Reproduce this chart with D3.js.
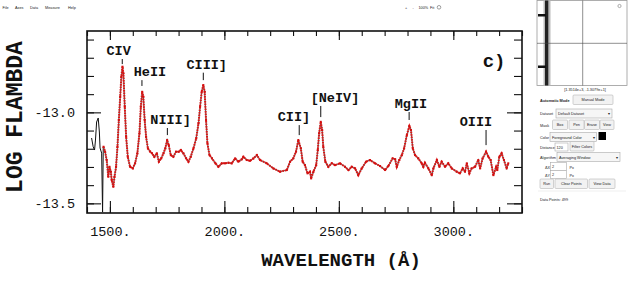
<!DOCTYPE html>
<html lang="en">
<head>
<meta charset="utf-8">
<title>Spectrum digitizer</title>
<script src="https://cdn.jsdelivr.net/npm/d3@7"></script>
<style>
  body { margin: 0; background: white; font-family: "Liberation Sans", Arial, sans-serif; }
  svg { display: block; }
  .ui { font-size: 10px; fill: #222; font-family: "Liberation Sans", Arial, sans-serif; }
  .btn { fill: #f2f2f2; stroke: #b5b5b5; stroke-width: 0.6; }
  .mono { font-family: "Liberation Mono", "DejaVu Sans Mono", monospace; }
</style>
</head>
<body>
<svg id="chart" width="628" height="282"></svg>
<script>
var wavelength = [
  1472,1479,1486,1493,1498,1504,1508,1515,1520,1527,
  1533,1539,1545,1550,1555,1559,1565,1571,1578,1588,
  1600,1610,1620,1629,1635,1641,1646,1652,1658,1666,
  1676,1684,1694,1705,1714,1724,1734,1742,1750,1757,
  1766,1777,1789,1801,1810,1821,1833,1843,1853,1865,
  1877,1887,1894,1901,1908,1914,1920,1926,1935,1946,
  1961,1974,1989,2003,2018,2032,2047,2061,2076,2083,
  2098,2112,2127,2142,2156,2185,2214,2243,2273,2287,
  2301,2313,2323,2334,2342,2352,2363,2374,2379,2389,
  2401,2408,2414,2421,2427,2432,2441,2454,2469,2483,
  2505,2527,2542,2556,2571,2585,2600,2619,2636,2658,
  2680,2702,2716,2735,2746,2753,2764,2775,2785,2797,
  2808,2815,2823,2833,2847,2862,2869,2876,2891,2906,
  2913,2928,2939,2949,2964,2978,2993,3015,3029,3041,
  3051,3059,3070,3080,3095,3109,3117,3128,3143,3153,
  3163,3175,3187,3192,3201,3211,3221,3233,3240]
var logFlambda = [
  -13.189,-13.216,-13.262,-13.354,-13.299,-13.326,-13.372,-13.409,-13.354,-13.299,
  -13.189,-13.042,-12.914,-12.804,-12.749,-12.786,-12.969,-13.134,-13.244,-13.299,
  -13.308,-13.280,-13.225,-13.115,-12.969,-12.887,-12.914,-13.042,-13.134,-13.198,
  -13.216,-13.225,-13.244,-13.225,-13.271,-13.253,-13.225,-13.198,-13.152,-13.180,
  -13.235,-13.244,-13.216,-13.216,-13.207,-13.225,-13.253,-13.271,-13.244,-13.198,
  -13.143,-13.060,-12.969,-12.887,-12.850,-12.887,-13.042,-13.170,-13.235,-13.253,
  -13.280,-13.299,-13.280,-13.280,-13.277,-13.280,-13.253,-13.271,-13.258,-13.244,
  -13.262,-13.266,-13.253,-13.235,-13.262,-13.280,-13.308,-13.326,-13.317,-13.271,
  -13.253,-13.216,-13.152,-13.198,-13.271,-13.290,-13.335,-13.326,-13.363,-13.326,
  -13.290,-13.207,-13.115,-13.052,-13.097,-13.189,-13.271,-13.299,-13.280,-13.290,
  -13.280,-13.299,-13.317,-13.299,-13.308,-13.345,-13.308,-13.271,-13.262,-13.280,
  -13.295,-13.317,-13.295,-13.253,-13.258,-13.299,-13.262,-13.235,-13.198,-13.125,
  -13.075,-13.097,-13.198,-13.235,-13.253,-13.280,-13.299,-13.277,-13.308,-13.345,
  -13.308,-13.262,-13.299,-13.271,-13.299,-13.280,-13.308,-13.326,-13.335,-13.308,
  -13.326,-13.280,-13.335,-13.308,-13.299,-13.262,-13.308,-13.253,-13.216,-13.244,
  -13.262,-13.345,-13.299,-13.317,-13.244,-13.225,-13.262,-13.308,-13.280]

// start of the scanned spectrum that was not picked up
var rawWave = [1420,1427,1433,1437,1442,1449,1454,1457,1464,1468,1471]
var rawFlux = [-13.141,-13.189,-13.207,-13.152,-13.053,-13.031,-13.108,-13.196,-13.224,-13.548,-13.19]

// emission line annotations
var lineNames = ["CIV", "HeII", "NIII]", "CIII]", "CII]", "[NeIV]", "MgII", "OIII"]
var lineWave  = [1554, 1640, 1751, 1908, 2327, 2421, 2807, 3143]
var labelWave = [1538, 1675, 1765, 1923, 2304, 2483, 2815, 3099]
var tickTop   = [-12.707, -12.823, -13.086, -12.782, -13.070, -12.965, -12.998, -13.097]
var tickBot   = [-12.735, -12.855, -13.125, -12.823, -13.125, -13.026, -13.042, -13.180]

var xMajor = [1500, 2000, 2500, 3000]
var yMajor = [-13.5, -13.0]

var svg = d3.select("#chart")

var x = d3.scaleLinear().domain([1400, 3300]).range([87, 522])
var y = d3.scaleLinear().domain([-13.553, -12.553]).range([213, 31])

var plot = svg.append("g")

// axes: ticks point inward, labels only on bottom/left majors
plot.append("g").attr("transform", "translate(0,213)")
  .call(d3.axisBottom(x).tickValues(d3.range(1400, 3301, 100)).tickSize(-6).tickFormat(""))
plot.append("g").attr("transform", "translate(0,213)")
  .call(d3.axisBottom(x).tickValues(xMajor).tickSize(-12).tickPadding(13).tickFormat(function(d) { return d + "." }))
plot.append("g").attr("transform", "translate(0,31)")
  .call(d3.axisTop(x).tickValues(d3.range(1400, 3301, 100)).tickSize(-5).tickFormat(""))
plot.append("g").attr("transform", "translate(0,31)")
  .call(d3.axisTop(x).tickValues(xMajor).tickSize(-9).tickFormat(""))
plot.append("g").attr("transform", "translate(87,0)")
  .call(d3.axisLeft(y).tickValues(d3.range(-13.5, -12.55, 0.1)).tickSize(-7).tickFormat(""))
plot.append("g").attr("transform", "translate(87,0)")
  .call(d3.axisLeft(y).tickValues(yMajor).tickSize(-14).tickPadding(12).tickFormat(function(d) { return d.toFixed(1) }))
plot.append("g").attr("transform", "translate(522,0)")
  .call(d3.axisRight(y).tickValues(d3.range(-13.5, -12.55, 0.1)).tickSize(-8).tickFormat(""))
plot.append("g").attr("transform", "translate(522,0)")
  .call(d3.axisRight(y).tickValues(yMajor).tickSize(-15).tickFormat(""))

plot.selectAll(".domain").remove()
plot.selectAll(".tick line").attr("stroke", "#111").attr("stroke-width", 1.1)
plot.selectAll(".tick text").attr("font-size", 13.5).attr("fill", "#111")
  .attr("font-family", "Liberation Mono, monospace")

plot.append("rect").attr("x", 87).attr("y", 31).attr("width", 435).attr("height", 182)
  .attr("fill", "none").attr("stroke", "#111").attr("stroke-width", 1.6)

// axis titles
svg.append("text").attr("class", "mono")
  .attr("transform", "translate(22,117) rotate(-90)")
  .attr("text-anchor", "middle").attr("font-size", 23).attr("font-weight", "bold")
  .attr("fill", "#111").text("LOG FLAMBDA")
svg.append("text").attr("class", "mono")
  .attr("x", 341).attr("y", 266).attr("text-anchor", "middle")
  .attr("font-size", 19).attr("font-weight", "bold").attr("fill", "#111")
  .text("WAVELENGTH (\u00C5)")

// emission line labels
lineNames.forEach(function(n, i) {
  plot.append("line")
    .attr("x1", x(lineWave[i])).attr("x2", x(lineWave[i]))
    .attr("y1", y(tickTop[i])).attr("y2", y(tickBot[i]))
    .attr("stroke", "#111").attr("stroke-width", 1)
  plot.append("text").attr("class", "mono")
    .attr("x", x(labelWave[i])).attr("y", y(tickTop[i]) - 4)
    .attr("text-anchor", "middle").attr("font-size", 13.5).attr("font-weight", "bold")
    .attr("fill", "#111").text(n)
})
plot.append("text").attr("class", "mono")
  .attr("x", x(3178)).attr("y", y(-12.749))
  .attr("text-anchor", "middle").attr("font-size", 19).attr("font-weight", "bold")
  .attr("fill", "#111").text("c)")

// spectrum
var pts = d3.zip(wavelength, logFlambda)
var line = d3.line().x(function(d) { return x(d[0]) }).y(function(d) { return y(d[1]) })

plot.append("path").datum(d3.zip(rawWave, rawFlux)).attr("d", line)
  .attr("fill", "none").attr("stroke", "#111").attr("stroke-width", 1)
plot.append("path").datum(pts).attr("d", line)
  .attr("fill", "none").attr("stroke", "#666").attr("stroke-width", 1.2)
plot.append("path").datum(pts).attr("d", line)
  .attr("fill", "none").attr("stroke", "#e01414").attr("stroke-width", 2)
  .attr("stroke-dasharray", "1.6 0.9")
plot.selectAll(".pt").data(pts).enter().append("rect").attr("class", "pt")
  .attr("x", function(d) { return x(d[0]) - 1 }).attr("y", function(d) { return y(d[1]) - 1 })
  .attr("width", 2).attr("height", 2).attr("fill", "#d40f0f")

// tiny UI text: chrome clamps small font sizes, so draw at 10px and scale down
var uiScale = 0.38
function uiText(x0, y0, str, anchor, bold, col) {
  return svg.append("text").attr("class", "ui")
    .attr("transform", "translate(" + x0 + "," + y0 + ") scale(" + uiScale + ")")
    .attr("text-anchor", anchor || "start")
    .attr("font-weight", bold ? "bold" : null)
    .attr("fill", col || "#222")
    .text(str)
}

// digitizer chrome: menu + toolbar
var menu = ["File", "Axes", "Data", "Measure", "Help"]
var menuX = [2.5, 15, 30, 45, 68]
menu.forEach(function(m, i) { uiText(menuX[i], 9, m) })
var tools = ["+", "-", "100%", "Fit"]
var toolX = [405, 412.5, 418.5, 430]
tools.forEach(function(t, i) { uiText(toolX[i], 9, t, "start", false, "#555") })
svg.append("circle").attr("cx", 439).attr("cy", 7.3).attr("r", 1.8).attr("fill", "none").attr("stroke", "#777").attr("stroke-width", 0.7)

// zoom preview
var zp = svg.append("g")
zp.append("rect").attr("x", 537).attr("y", 0.5).attr("width", 90).attr("height", 85)
  .attr("fill", "white").attr("stroke", "#999").attr("stroke-width", 0.8)
zp.append("rect").attr("x", 543.5).attr("y", 0.5).attr("width", 7).attr("height", 85).attr("fill", "#bbb")
zp.append("rect").attr("x", 545).attr("y", 0.5).attr("width", 3.3).attr("height", 85).attr("fill", "#222")
zp.append("rect").attr("x", 538).attr("y", 14).attr("width", 8).attr("height", 2.5).attr("fill", "#111")
zp.append("rect").attr("x", 538).attr("y", 65.5).attr("width", 8).attr("height", 2.5).attr("fill", "#111")
zp.append("line").attr("x1", 582.7).attr("x2", 582.7).attr("y1", 0.5).attr("y2", 85.5).attr("stroke", "#444").attr("stroke-width", 0.6)
zp.append("line").attr("x1", 537).attr("x2", 627).attr("y1", 43.3).attr("y2", 43.3).attr("stroke", "#444").attr("stroke-width", 0.6)
zp.append("circle").attr("cx", 619.5).attr("cy", 6).attr("r", 1.6).attr("fill", "none").attr("stroke", "#777").attr("stroke-width", 0.6)
uiText(585, 91, "[1.3514e+3, -1.3079e+1]", "middle")

// side panel controls
function button(x0, y0, w, label) {
  svg.append("rect").attr("class", "btn").attr("x", x0).attr("y", y0).attr("width", w).attr("height", 9.5).attr("rx", 1)
  uiText(x0 + w / 2, y0 + 6.2, label, "middle")
}
function select(x0, y0, w, label) {
  svg.append("rect").attr("x", x0).attr("y", y0).attr("width", w).attr("height", 9).attr("fill", "#f6f6f6")
    .attr("stroke", "#aaa").attr("stroke-width", 0.6)
  uiText(x0 + 2, y0 + 6, label)
  uiText(x0 + w - 4, y0 + 6, "\u25BE")
}
function input(x0, y0, w, val) {
  svg.append("rect").attr("x", x0).attr("y", y0).attr("width", w).attr("height", 8).attr("fill", "white")
    .attr("stroke", "#aaa").attr("stroke-width", 0.6)
  uiText(x0 + 1.5, y0 + 5.6, val)
}

uiText(540, 101.5, "Automatic Mode", "start", true)
button(573, 95, 40, "Manual Mode")
uiText(540, 115, "Dataset")
select(556, 109, 56, "Default Dataset")
uiText(540, 126.5, "Mask")
button(552.5, 120, 15, "Box")
button(569, 120, 15, "Pen")
button(584.5, 120, 15, "Erase")
button(600, 120, 14, "View")
uiText(540, 139, "Color")
select(550, 132.5, 46.5, "Foreground Color")
svg.append("rect").attr("x", 598.5).attr("y", 132).attr("width", 7.5).attr("height", 8).attr("fill", "#000")
uiText(540, 148.5, "Distance")
input(555, 143, 13, "120")
button(570, 141.5, 24, "Filter Colors")
uiText(540, 159, "Algorithm")
select(557, 152.5, 63, "Averaging Window")
uiText(545, 168.5, "\u0394X")
input(550.5, 162.5, 16, "2")
uiText(569.5, 168.5, "Px")
uiText(545, 176.5, "\u0394Y")
input(550.5, 170.5, 16, "2")
uiText(569.5, 176.5, "Px")
button(540, 179, 13.5, "Run")
button(555, 179, 32.5, "Clear Points")
button(589, 179, 26, "View Data")
svg.append("line").attr("x1", 538).attr("x2", 626).attr("y1", 191).attr("y2", 191).attr("stroke", "#e4e4e4").attr("stroke-width", 0.6)
uiText(540, 200.5, "Data Points: 499")
</script>
</body>
</html>
